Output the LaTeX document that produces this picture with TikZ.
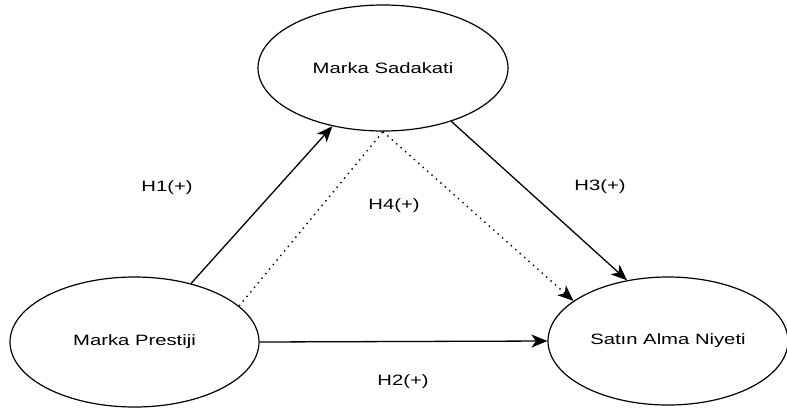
\documentclass[tikz,border=0pt]{standalone}
\usepackage{fontspec}
\setmainfont{Liberation Sans}
\usetikzlibrary{shapes.geometric,arrows.meta}
\tikzset{
  construct/.style={draw, ellipse, line width=1.2pt, inner sep=0pt},
  tipped/.style={-{Stealth[length=16pt,width=13pt,inset=4.5pt]}},
  link/.style={line width=1.3pt, tipped},
  dotlink/.style={line width=1.4pt, dash pattern=on 1.4pt off 4.5pt},
  hyp/.style={inner sep=0pt}
}
\newcommand{\wtxt}[1]{\scalebox{1.35}[1]{\fontsize{15}{18}\selectfont #1}}
\begin{document}
\begin{tikzpicture}[x=1pt,y=-1pt]
\useasboundingbox (0,0) rectangle (787,408);
\node[construct, minimum width=250pt, minimum height=126pt] (sad) at (383,68) {\wtxt{Marka Sadakati}};
\node[construct, minimum width=249pt, minimum height=130pt] (pres) at (134.5,342) {\wtxt{Marka Prestiji}};
\node[construct, minimum width=240pt, minimum height=128pt] (niy) at (668,341) {\wtxt{Satın Alma Niyeti}};
\draw[link] (pres.46) -- (sad.229);
\draw[link] (pres.east) -- (niy.west);
\draw[link] (sad.-38) -- (niy.124);
\coordinate (apex) at (sad.south);
\draw[dotlink] (pres.19) -- (apex);
\draw[dotlink, tipped] (apex) -- (niy.157);
\node[hyp] (h1) at (167,188) {\wtxt{H1(+)}};
\node[hyp] (h2) at (403,382) {\wtxt{H2(+)}};
\node[hyp] (h3) at (600,187) {\wtxt{H3(+)}};
\node[hyp] (h4) at (394,206) {\wtxt{H4(+)}};
\end{tikzpicture}
\end{document}
